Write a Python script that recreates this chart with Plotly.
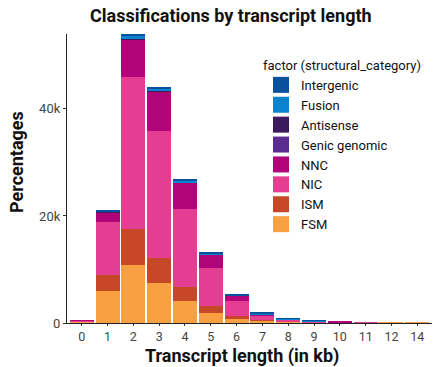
import plotly.graph_objects as go

categories = ['0', '1', '2', '3', '4', '5', '6', '7', '8', '9', '10', '11', '12', '14']
FSM = [300, 6000, 10800, 7500, 4200, 1900, 750, 450, 300, 50, 30, 20, 100, 100]
ISM = [50, 3000, 6800, 4700, 2600, 1300, 550, 100, 50, 30, 80, 0, 0, 0]
NIC = [50, 9900, 28400, 23600, 14500, 7100, 2800, 900, 250, 220, 50, 150, 0, 0]
NNC = [150, 1800, 7000, 7400, 4900, 2500, 1000, 150, 50, 50, 100, 0, 0, 0]
GENIC_GENOMIC = [0, 20, 50, 40, 30, 20, 10, 5, 0, 0, 0, 0, 0, 0]
ANTISENSE = [0, 20, 40, 30, 20, 10, 5, 0, 0, 0, 0, 0, 0, 0]
FUSION = [0, 100, 600, 500, 300, 200, 100, 200, 100, 70, 0, 0, 0, 0]
INTERGENIC = [0, 100, 300, 300, 200, 300, 200, 150, 100, 80, 0, 0, 0, 0]

series = [
    ("FSM", FSM, "#F9A142"),
    ("ISM", ISM, "#C64826"),
    ("NIC", NIC, "#E43E92"),
    ("NNC", NNC, "#B0047A"),
    ("Genic genomic", GENIC_GENOMIC, "#5B2C8F"),
    ("Antisense", ANTISENSE, "#3D1A5E"),
    ("Fusion", FUSION, "#0A84CF"),
    ("Intergenic", INTERGENIC, "#08519C"),
]

y_tickvals = [0, 20000, 40000]
y_ticktext = ['0', '20k', '40k']

FONT = "Roboto"
fig = go.Figure()
for name, vals, col in series:
    fig.add_trace(go.Bar(x=categories, y=vals, name=name, marker=dict(color=col, line=dict(width=0)),
                         legendgroup=name, showlegend=False))
    fig.add_trace(go.Scatter(x=[None], y=[None], mode='markers', name=name, legendgroup=name,
                             marker=dict(symbol='square', size=19, color=col), showlegend=True))

W, H = 436, 367
L, R, T, B = 67, 4, 34, 44
pw, ph = W - L - R, H - T - B

def px_x(p):
    return (p - L) / pw

def px_y(p):
    return (H - B - p) / ph

fig.update_layout(
    width=W, height=H,
    margin=dict(l=L, r=R, t=T, b=B, pad=0),
    paper_bgcolor='white', plot_bgcolor='white',
    barmode='stack', bargap=0.07,
    font=dict(family=FONT, size=13, color='#222222'),
    showlegend=True,
    legend=dict(
        x=px_x(261), y=px_y(53), xanchor='left', yanchor='top',
        traceorder='reversed', bgcolor='rgba(0,0,0,0)',
        title=dict(text='factor (structural_category)', font=dict(size=13, family=FONT, color='#111111')),
        font=dict(size=13, family=FONT, color='#111111'),
        itemsizing='trace',
    ),
    xaxis=dict(type='category', range=[-0.57, 13.57], showgrid=False, zeroline=False,
               showline=True, linecolor='#222222', linewidth=1.2,
               ticks='outside', ticklen=2, tickcolor='#333333',
               tickfont=dict(size=12.5, family=FONT, color='#444444')),
    yaxis=dict(range=[0, 54000], showgrid=False, zeroline=False,
               showline=True, linecolor='#222222', linewidth=1.2,
               ticks='outside', ticklen=3, tickcolor='#333333',
               tickvals=y_tickvals, ticktext=y_ticktext,
               tickfont=dict(size=13, family=FONT, color='#444444')),
    annotations=[
        dict(text='<b>Classifications by transcript length</b>', xref='paper', yref='paper',
             x=px_x(231), y=px_y(16), xanchor='center', yanchor='middle', showarrow=False,
             font=dict(size=18, family=FONT, color='#111111')),
        dict(text='<b>Transcript length (in kb)</b>', xref='paper', yref='paper',
             x=px_x(242), y=px_y(356), xanchor='center', yanchor='middle', showarrow=False,
             font=dict(size=18, family=FONT, color='#111111')),
        dict(text='<b>Percentages</b>', xref='paper', yref='paper',
             x=px_x(16), y=px_y(162), xanchor='center', yanchor='middle', showarrow=False,
             textangle=-90, font=dict(size=18, family=FONT, color='#111111')),
    ],
)

fig.write_html("out.html", config={'displayModeBar': False},
               post_script="document.body.style.margin='0';document.body.style.overflow='hidden';")
